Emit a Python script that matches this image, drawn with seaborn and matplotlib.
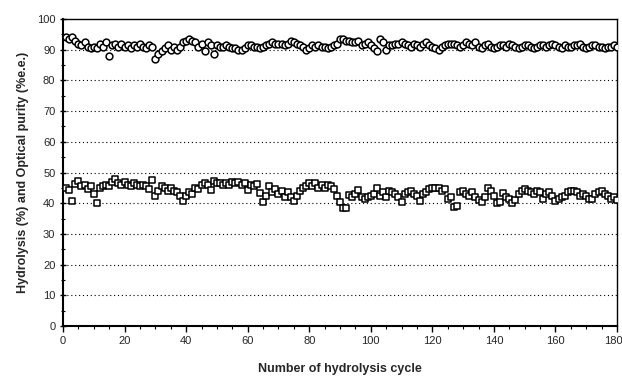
import pandas as pd
import numpy as np
import matplotlib
matplotlib.use("Agg")
import matplotlib.pyplot as plt
import matplotlib.transforms as mtransforms
import seaborn as sns
from matplotlib.ticker import MultipleLocator

# optical purity (%e.e.), cycles 1-180
purity = [94, 93.5, 94, 93, 92, 91.5, 92.5, 91, 90.5, 91,
          90.5, 92, 91, 92.5, 88, 91.5, 92, 91, 92, 91,
          91.5, 90.5, 91.5, 91, 92, 91, 90.5, 91.5, 91, 87,
          88.5, 89.5, 90.5, 91.5, 90, 91, 90, 91, 92.5, 93,
          93.5, 93, 92.5, 91, 92, 89.5, 92.5, 91.5, 88.5, 91.5,
          91, 91, 91.5, 91, 90.5, 90.5, 90, 90, 90.5, 91.5,
          91.5, 91, 91, 90.5, 91, 91.5, 92, 92.5, 92, 92,
          92, 91.5, 92, 93, 92.5, 92, 91.5, 91, 90, 90.5,
          91.5, 91, 91.5, 91, 91, 90.5, 91, 91.5, 92, 93.5,
          93.5, 93, 93, 92.5, 92.5, 93, 91.5, 92, 92.5, 91.5,
          90.5, 89.5, 93.5, 92.5, 90, 91.5, 91.5, 92, 92, 92.5,
          92, 91.5, 91, 92, 91.5, 91, 92, 92.5, 91.5, 91,
          90.5, 90, 91, 91.5, 92, 92, 92, 91.5, 91, 91.5,
          92.5, 92, 91.5, 92.5, 91, 90.5, 91.5, 92, 91, 90.5,
          91, 91.5, 91.5, 91, 92, 91.5, 91, 90.5, 91, 91.5,
          91.5, 91, 90.5, 91, 91.5, 91.5, 91, 91.5, 92, 91.5,
          91, 90.5, 91.5, 91, 91, 91.5, 91.5, 92, 91, 90.5,
          91, 91.5, 91.5, 91, 91, 90.5, 91, 91, 91.5, 91]

# hydrolysis (%), cycles 1-180
hydrolysis = [44.8, 44.3, 40.8, 46.2, 47.3, 45.5, 46, 44.5, 45.5, 43,
              40, 45, 45.5, 46, 45.5, 47, 48, 46.5, 46, 47,
              46, 45.5, 46.5, 46, 45.5, 46, 45.5, 44.5, 47.5, 42.3,
              44, 45.5, 45, 44, 45, 44, 43.5, 42.5, 40.8, 42.5,
              43.5, 43, 45, 44.5, 46, 46.5, 46, 44.3, 47.3, 46.5,
              46.5, 46, 46.5, 46, 47, 46.5, 47, 46, 46.5, 44.3,
              46, 45.5, 46.2, 43.2, 40.5, 42.5, 45.6, 43.5, 44.5, 43,
              44, 42, 43.5, 42, 40.8, 42.5, 44, 45, 45.5, 46.5,
              45.5, 46.5, 45, 46, 45, 46, 45.5, 44.5, 42.3, 40.5,
              38.3, 38.3, 42.7, 42, 43, 44.3, 42, 41.3, 42, 42.5,
              43, 44.8, 42.5, 43.5, 42, 44, 43.5, 43, 42, 40.5,
              43, 43.5, 44, 43, 42.5, 40.8, 43, 43.5, 44.5, 44.8,
              44.8, 45, 44, 44.5, 41.5, 42, 38.9, 39, 43.7, 44,
              43, 42.5, 43.5, 42, 41, 40.5, 42, 44.8, 44, 42.5,
              40, 40.5, 43.2, 42, 41.5, 40.2, 41, 43, 44, 44.5,
              44, 43.5, 43, 44, 43.5, 41.3, 43, 43.5, 42.5, 40.8,
              41.5, 42, 42.5, 43.5, 44, 44.1, 43.5, 42.5, 43, 42.5,
              41.5, 41.3, 43, 43.5, 44, 43, 42.5, 41.3, 42, 41]

cycles = list(range(1, 181))
x_ticks = list(range(0, 181, 20))

df = pd.DataFrame({"cycle": cycles, "purity": purity, "hydrolysis": hydrolysis})

sns.set_style("ticks")
plt.rcParams['font.family'] = ['Liberation Sans', 'DejaVu Sans']

fig = plt.figure(figsize=(6.22, 3.81), dpi=100)
ax = fig.add_axes([0.1013, 0.1444, 0.8907, 0.8056])

for y in range(10, 100, 10):
    ax.axhline(y, color='black', linestyle=(0, (1, 2.5)), linewidth=0.8, zorder=0)

sns.scatterplot(data=df, x="cycle", y="purity", ax=ax, marker='o', s=24,
                facecolor='white', edgecolor='black', linewidth=1.1, zorder=3)
sns.scatterplot(data=df, x="cycle", y="hydrolysis", ax=ax, marker='s', s=24,
                facecolor='white', edgecolor='black', linewidth=1.1, zorder=3)

ax.set_xlim(0, 180)
ax.set_ylim(0, 100)
ax.set_xticks(x_ticks)
ax.set_xticklabels([str(t) for t in x_ticks])
ax.xaxis.set_minor_locator(MultipleLocator(5))
ax.yaxis.set_major_locator(MultipleLocator(10))
ax.yaxis.set_minor_locator(MultipleLocator(5))
ax.tick_params(axis='both', which='major', labelsize=8, length=4, width=1, color='black')
ax.tick_params(axis='both', which='minor', length=2.5, width=0.8, color='black')
ax.tick_params(axis='y', which='both', direction='inout')

# keep the last x tick label inside the figure
last = ax.get_xticklabels()[-1]
last.set_horizontalalignment('right')
last.set_transform(last.get_transform() + mtransforms.ScaledTranslation(4 / 72, 0, fig.dpi_scale_trans))

for s in ax.spines.values():
    s.set_color('black')
    s.set_linewidth(1.0)
ax.spines['left'].set_linewidth(1.5)
ax.spines['bottom'].set_linewidth(1.5)

ax.set_xlabel("Number of hydrolysis cycle", fontsize=9, fontweight='bold', labelpad=12)
ax.set_ylabel("Hydrolysis (%) and Optical purity (%e.e.)", fontsize=9, fontweight='bold', labelpad=6)

fig.savefig("out.png", dpi=100)
